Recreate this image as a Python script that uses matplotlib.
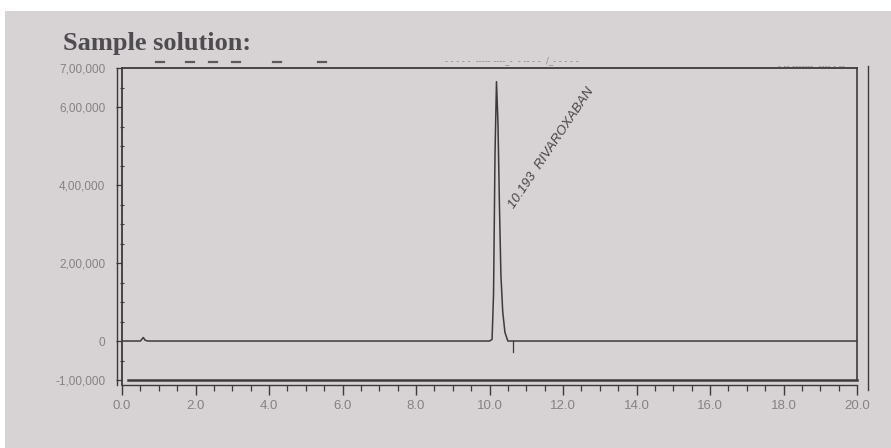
import matplotlib
matplotlib.use("Agg")
import matplotlib.pyplot as plt
from matplotlib.lines import Line2D
from matplotlib.patches import Rectangle
from matplotlib.ticker import MultipleLocator

# ---- data ----
time_min = [0.0, 0.50, 0.58, 0.63, 0.70, 10.00, 10.07, 10.11, 10.15, 10.19,
            10.23, 10.27, 10.31, 10.36, 10.42, 10.50, 20.0]
signal = [0, 0, 9000, 2000, 0, 0, 4000, 120000, 480000, 665000,
          560000, 350000, 170000, 75000, 22000, 0, 0]
peak_rt = 10.193
peak_name = "RIVAROXABAN"
marker_time = 10.65
ytick_vals = [-100000, 0, 200000, 400000, 600000, 700000]
ytick_labels = ["-1,00,000", "0", "2,00,000", "4,00,000", "6,00,000", "7,00,000"]
xtick_vals = [0, 2, 4, 6, 8, 10, 12, 14, 16, 18, 20]
xtick_labels = ["0.0", "2.0", "4.0", "6.0", "8.0", "10.0", "12.0", "14.0", "16.0", "18.0", "20.0"]

paper = "#d7d2d4"
ink = "#3c3a3c"
grey = "#858185"

fig = plt.figure(figsize=(8.91, 4.48), dpi=100, facecolor="white")
# paper of the photo
fig.patches.append(Rectangle((5 / 891, 0), 1, 1 - 11 / 448, transform=fig.transFigure,
                             facecolor=paper, edgecolor="none", zorder=-10))

ax = fig.add_axes([122 / 891, 1 - 384.7 / 448, 735 / 891, (384.7 - 68) / 448])
ax.set_facecolor(paper)
ax.patch.set_alpha(0)

ax.plot(time_min, signal, color=ink, lw=1.1, zorder=3)
# integration marker
ax.plot([marker_time, marker_time], [0, -28000], color=ink, lw=0.9)

ax.set_xlim(0, 20)
ax.set_ylim(-112000, 700000)

# frame bottom line at -1,00,000 and right edge
ax.plot([0.15, 20], [-100000, -100000], color=ink, lw=1.8, clip_on=False)
ax.plot([20, 20], [-100000, 700000], color=ink, lw=1.2, clip_on=False)
# double left line and outer right line
ax.plot([-0.13, -0.13], [-112000, 700000], color=ink, lw=1.0, clip_on=False)
ax.plot([20.3, 20.3], [-125000, 705000], color=ink, lw=1.0, clip_on=False)

for s in ["top", "left", "bottom"]:
    ax.spines[s].set_color(ink)
    ax.spines[s].set_linewidth(1.3)
ax.spines["right"].set_visible(False)
ax.spines["bottom"].set_linewidth(1.0)

tick_font = ["Liberation Sans Narrow", "Liberation Sans", "DejaVu Sans"]
ax.set_xticks(xtick_vals)
ax.set_xticklabels(xtick_labels, family=tick_font, fontsize=9.5, color=grey)
ax.xaxis.set_minor_locator(MultipleLocator(0.5))
ax.tick_params(axis="x", which="major", length=7, width=1.0, color=ink, pad=4, direction="out")
ax.tick_params(axis="x", which="minor", length=4, width=0.9, color=ink, direction="out")

ax.set_yticks(ytick_vals)
ax.set_yticklabels(ytick_labels, family=tick_font, fontsize=8.5, color=grey)
ax.yaxis.set_minor_locator(MultipleLocator(50000))
ax.tick_params(axis="y", which="major", length=4, width=0.9, color=ink, pad=8, direction="out")
ax.tick_params(axis="y", which="minor", length=3, width=0.8, color=ink, direction="inout")

ax.text(peak_rt + 0.55, 335000, f"{peak_rt:.3f}  {peak_name}", rotation=56,
        rotation_mode="anchor", ha="left", va="bottom", fontsize=9.5,
        style="italic", family=["Liberation Sans", "DejaVu Sans"], color="#454345")

# title
fig.text(63 / 891, 1 - 50 / 448, "Sample solution:", family=["Liberation Serif", "DejaVu Serif"],
         fontweight="bold", fontsize=19, color="#4e4c50", va="baseline", ha="left")

# faint header marks above the frame
for xp in [160, 190, 213, 236, 277, 322]:
    fig.lines.append(Line2D([(xp - 4) / 891, (xp + 4) / 891], [1 - 62 / 448] * 2,
                            transform=fig.transFigure, color="#5a585c", lw=1.6))
fig.text(445 / 891, 1 - 63 / 448, "- - - - -  ----- ----_-  - -- - -  /_- - - - -",
         fontsize=6, color="#8e8a8e", va="baseline", ha="left")
fig.text(845 / 891, 1 - 69 / 448, "- -- -------  ---- - --",
         fontsize=6, color="#8e8a8e", va="baseline", ha="right")

fig.savefig("out.png", dpi=100, facecolor=fig.get_facecolor())
